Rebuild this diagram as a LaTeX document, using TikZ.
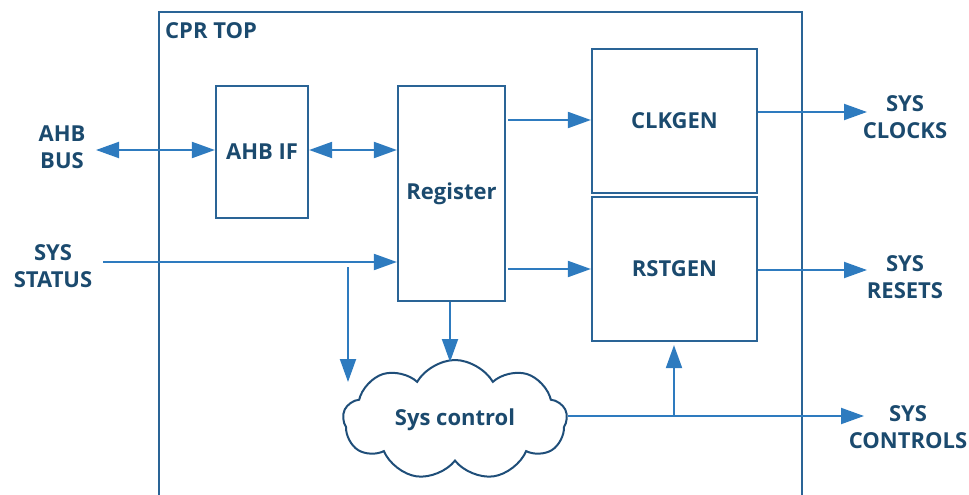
\documentclass[tikz,border=0pt]{standalone}
\usepackage{fontspec}
\setmainfont{Open Sans}
\usetikzlibrary{arrows.meta,shapes.symbols}
\definecolor{lineblue}{HTML}{2E7BBF}
\definecolor{boxblue}{HTML}{2A6496}
\definecolor{txtblue}{HTML}{1B4A6E}
\definecolor{cloudblue}{HTML}{1F4E79}
\tikzset{
  blk/.style={draw=boxblue, line width=2.2pt, rectangle, inner sep=0pt, text=txtblue, font=\bfseries\fontsize{22}{27}\selectfont},
  lbl/.style={text=txtblue, align=center, inner sep=0pt, font=\bfseries\fontsize{22}{27}\selectfont},
  arr/.style={draw=lineblue, line width=2pt, -{Triangle[length=23pt,width=16pt]}},
  dbl/.style={draw=lineblue, line width=2pt, {Triangle[length=23pt,width=16pt]}-{Triangle[length=23pt,width=16pt]}},
  cloudnode/.style={cloud, cloud puffs=9, cloud puff arc=120, cloud ignores aspect, draw=cloudblue, line width=2pt, minimum width=224pt, minimum height=120pt, inner sep=0pt, text=txtblue, font=\bfseries\fontsize{22}{27}\selectfont}
}
\begin{document}
\begin{tikzpicture}[x=1pt,y=-1pt]
\useasboundingbox (0,0) rectangle (969,495);
% outer CPR TOP frame
\draw[draw=boxblue, line width=2.2pt] (159,495) -- (159,12) -- (802,12) -- (802,495);
\node[lbl, anchor=base west] (cprtop) at (165,39) {CPR TOP};
% blocks
\node[blk, minimum width=92pt, minimum height=132pt] (ahbif) at (262,152) {AHB IF};
\node[blk, minimum width=107pt, minimum height=215pt] (reg) at (451.5,193.5) {Register};
\node[blk, minimum width=165pt, minimum height=144pt] (clk) at (674.5,121) {CLKGEN};
\node[blk, minimum width=165pt, minimum height=144pt] (rst) at (674.5,269) {RSTGEN};
\node[cloudnode] (sysc) at (455,420) {Sys control};
% outside labels
\node[lbl] (ahbbus) at (62,147) {AHB\\BUS};
\node[lbl] (sysstat) at (53,266) {SYS\\STATUS};
\node[lbl] (clocks) at (905,117) {SYS\\CLOCKS};
\node[lbl] (resets) at (905,277) {SYS\\RESETS};
\node[lbl] (controls) at (908,427) {SYS\\CONTROLS};
% coordinates for free ends
\coordinate (busend) at (96,150);
\coordinate (statend) at (103,262);
\coordinate (brtop) at (348,267);
\coordinate (brtip) at (348,382);
\coordinate (regtip) at (450,362);
\coordinate (clkout) at (867,112);
\coordinate (rstout) at (867,270);
\coordinate (ctlout) at (864,416);
\coordinate (upx) at (674,416);
% connectors
\draw[dbl] (busend) -- (busend -| ahbif.west);
\draw[dbl] (ahbif.east |- busend) -- (reg.west |- busend);
\draw[arr] (statend) -- (statend -| reg.west);
\draw[arr] (brtop) -- (brtip);
\draw[arr] (regtip |- reg.south) -- (regtip);
\draw[arr] ([xshift=2pt]reg.east |- 0,120) -- (clk.west |- 0,120);
\draw[arr] ([xshift=2pt]reg.east |- rst.west) -- (rst.west);
\draw[arr] (clk.east |- clkout) -- (clkout);
\draw[arr] (rst.east |- rstout) -- (rstout);
\draw[arr] (sysc.east |- ctlout) -- (ctlout);
\draw[arr] (upx) -- ([yshift=-3pt]rst.south -| upx);
\end{tikzpicture}
\end{document}
